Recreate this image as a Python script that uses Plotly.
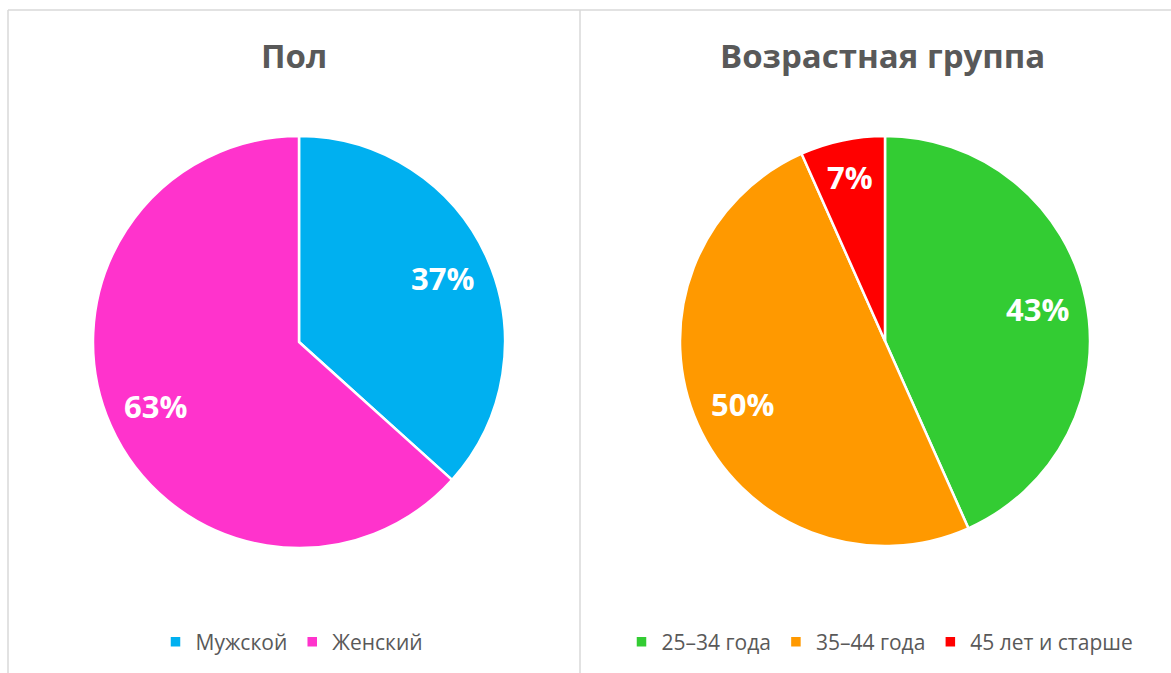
import math
import plotly.graph_objects as go

# ---- data ----
gender_labels = ["Мужской", "Женский"]
gender_counts = [11, 19]
age_labels = ["25–34 года", "35–44 года", "45 лет и старше"]
age_counts = [13, 15, 2]
titles = ["Пол", "Возрастная группа"]

# ---- style ----
W, H = 1171, 673
gender_colors = ["#00B0F0", "#FF33CC"]
age_colors = ["#33CC33", "#FF9900", "#FF0000"]
text_grey = "#595959"
border = "#D9D9D9"
FONT = "Open Sans"

# pie geometry in pixels (centre x, centre y from top, radius)
pies = [
    dict(cx=299, cy=342, r=206),
    dict(cx=885, cy=341, r=205),
]


def domain(p):
    return dict(
        x=[(p["cx"] - p["r"]) / W, (p["cx"] + p["r"]) / W],
        y=[1 - (p["cy"] + p["r"]) / H, 1 - (p["cy"] - p["r"]) / H],
    )


fig = go.Figure()
fig.add_trace(go.Pie(
    labels=gender_labels, values=gender_counts, sort=False,
    direction="clockwise", rotation=0, textinfo="none", hoverinfo="label+percent",
    marker=dict(colors=gender_colors, line=dict(color="white", width=2.5)),
    domain=domain(pies[0]), legend="legend",
))
fig.add_trace(go.Pie(
    labels=age_labels, values=age_counts, sort=False,
    direction="clockwise", rotation=0, textinfo="none", hoverinfo="label+percent",
    marker=dict(colors=age_colors, line=dict(color="white", width=2.5)),
    domain=domain(pies[1]), legend="legend2",
))

annotations = []
for p, vals in zip(pies, [gender_counts, age_counts]):
    total = sum(vals)
    start = 0.0
    for v in vals:
        frac = v / total
        mid = (start + frac / 2) * 2 * math.pi
        start += frac
        rf = 0.76 if frac > 0.1 else 0.82
        px = p["cx"] + rf * p["r"] * math.sin(mid)
        py = p["cy"] - rf * p["r"] * math.cos(mid)
        annotations.append(dict(
            x=px / W, y=1 - py / H, xref="paper", yref="paper",
            text=f"{round(frac * 100)}%", showarrow=False,
            xanchor="center", yanchor="middle",
            font=dict(family=FONT, size=31, color="white", weight="bold"),
        ))

for t, xc in zip(titles, [294, 882]):
    annotations.append(dict(
        x=xc / W, y=1 - 55 / H, xref="paper", yref="paper", text=t,
        showarrow=False, xanchor="center", yanchor="middle",
        font=dict(family=FONT, size=33, color=text_grey, weight="bold"),
    ))

shapes = [
    dict(type="line", xref="paper", yref="paper", x0=8 / W, x1=1, y0=1 - 10 / H, y1=1 - 10 / H,
         line=dict(color=border, width=1.5)),
    dict(type="line", xref="paper", yref="paper", x0=8 / W, x1=8 / W, y0=0, y1=1 - 10 / H,
         line=dict(color=border, width=1.5)),
    dict(type="line", xref="paper", yref="paper", x0=580 / W, x1=580 / W, y0=0, y1=1 - 10 / H,
         line=dict(color=border, width=1.5)),
]

leg_common = dict(orientation="h", xanchor="center", yanchor="middle", y=1 - 642 / H,
                  font=dict(family=FONT, size=21, color=text_grey), bgcolor="rgba(0,0,0,0)",
                  itemwidth=30)

fig.update_layout(
    width=W, height=H, margin=dict(l=0, r=0, t=0, b=0),
    paper_bgcolor="white", plot_bgcolor="white",
    annotations=annotations, shapes=shapes, showlegend=True,
    legend=dict(x=292 / W, **leg_common),
    legend2=dict(x=880 / W, **leg_common),
)

fig.write_html("out.html", config={"displayModeBar": False},
               post_script="document.body.style.margin='0';")
